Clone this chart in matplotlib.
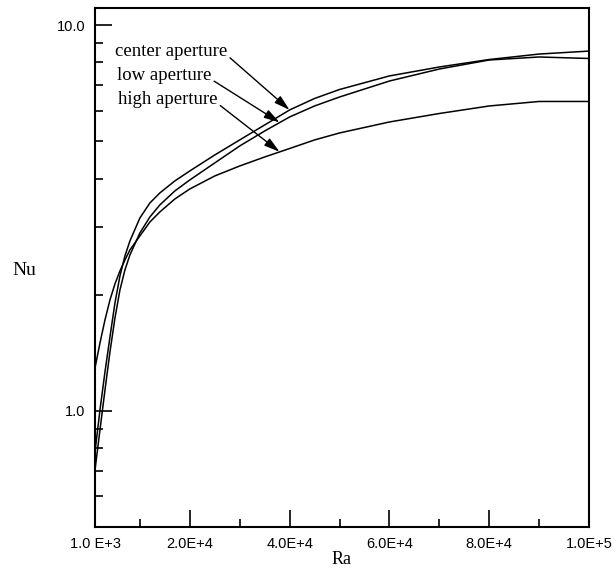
import numpy as np
import matplotlib
matplotlib.use("Agg")
import matplotlib.pyplot as plt
from matplotlib.ticker import FixedLocator, NullFormatter
from matplotlib.transforms import ScaledTranslation

# ---- data ----
ra = [1000, 2000, 3000, 4000, 5000, 6000, 7000, 8000, 10000, 12000, 14000,
      17000, 20000, 25000, 30000, 35000, 40000, 45000, 50000, 60000, 70000,
      80000, 90000, 100000]
nu_center = [0.783, 1.006, 1.262, 1.555, 1.905, 2.237, 2.521, 2.757, 3.162,
             3.458, 3.672, 3.944, 4.186, 4.605, 5.037, 5.508, 6.024, 6.451,
             6.806, 7.380, 7.785, 8.140, 8.410, 8.560]
nu_low = [0.703, 0.893, 1.133, 1.422, 1.741, 2.058, 2.319, 2.536, 2.892,
          3.181, 3.418, 3.715, 3.967, 4.391, 4.859, 5.313, 5.777, 6.169,
          6.508, 7.159, 7.691, 8.117, 8.264, 8.190]
nu_high = [1.292, 1.500, 1.721, 1.939, 2.133, 2.305, 2.461, 2.613, 2.841,
           3.087, 3.278, 3.541, 3.759, 4.063, 4.312, 4.550, 4.786, 5.037,
           5.251, 5.607, 5.898, 6.169, 6.337, 6.337]

x_major = [1000, 20000, 40000, 60000, 80000, 100000]
x_major_labels = ["1.0 E+3", "2.0E+4", "4.0E+4", "6.0E+4", "8.0E+4", "1.0E+5"]
x_minor = [10000, 30000, 50000, 70000, 90000]
y_major = [1.0, 10.0]
y_major_labels = ["1.0", "10.0"]
y_minor = [0.6, 0.7, 0.8, 0.9, 2, 3, 4, 5, 6, 7, 8, 9]

labels = ["center aperture", "low aperture", "high aperture"]
arrow_ra = [40000, 38000, 38000]

# ---- figure ----
W, H = 616, 573
fig = plt.figure(figsize=(W / 100, H / 100), dpi=100)
ax = fig.add_axes([95 / W, (H - 527) / H, 494 / W, 519 / H])

series = [nu_center, nu_low, nu_high]
for s in series:
    ax.plot(ra, s, color="black", lw=1.1, solid_joinstyle="round")

ax.set_yscale("log")
ax.set_xlim(1000, 100000)
ax.set_ylim(0.5, 11.07)

ax.xaxis.set_major_locator(FixedLocator(x_major))
ax.set_xticklabels(x_major_labels)
ax.xaxis.set_minor_locator(FixedLocator(x_minor))
ax.yaxis.set_major_locator(FixedLocator(y_major))
ax.set_yticklabels(y_major_labels)
ax.yaxis.set_minor_locator(FixedLocator(y_minor))
ax.yaxis.set_minor_formatter(NullFormatter())

sans = ["Liberation Sans", "DejaVu Sans"]
for lab in ax.get_xticklabels() + ax.get_yticklabels():
    lab.set_fontfamily(sans)
    lab.set_fontsize(10.5)
# last x label sits a little right of the frame in the reference
last = ax.get_xticklabels()[-1]
last.set_transform(last.get_transform() + ScaledTranslation(7 / 100, 0, fig.dpi_scale_trans))

ax.tick_params(which="major", direction="in", length=12.5, width=1.2,
               pad=7, top=False, right=False)
ax.tick_params(which="minor", direction="in", length=6, width=1.2,
               top=False, right=False)
for sp in ax.spines.values():
    sp.set_linewidth(1.5)

serif = ["Liberation Serif", "DejaVu Serif"]
ax.set_xlabel("Ra", family=serif, size=13, labelpad=0)
ax.set_ylabel("Nu", family=serif, size=14, rotation=0, ha="center", va="center")
ax.yaxis.set_label_coords(-0.144, 0.495)

# annotations
text_pos = [(115, 52), (117, 76), (118, 100)]  # pixel anchors of the texts
for lab, s, rx, (px, py) in zip(labels, series, arrow_ra, text_pos):
    tip = (rx, float(np.interp(rx, ra, s)))
    ax.annotate(lab, xy=tip, xycoords="data",
                xytext=(px, H - py), textcoords="figure pixels",
                family=serif, size=13.5, va="center", ha="left",
                arrowprops=dict(arrowstyle="-|>,head_length=0.7,head_width=0.2",
                                color="black", lw=1.0, shrinkA=0, shrinkB=0,
                                relpos=(1.0, 0.3)))

fig.savefig("out.png", dpi=100)
